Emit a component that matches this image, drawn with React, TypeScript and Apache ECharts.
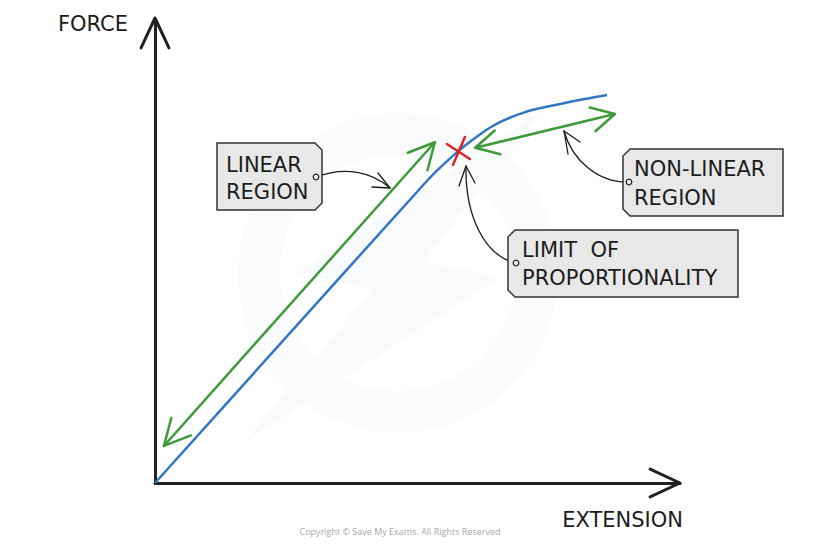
import React, { useEffect, useRef } from "react";
import * as echarts from "echarts";

// Force–extension curve (arbitrary units, axes 0..100)
const extension = [0, 25, 52, 54, 56, 58, 60, 62, 64, 66, 68, 70, 72, 78.5, 86.1];
const force = [0, 31.5, 65.5, 67.8, 69.9, 71.9, 73.7, 75.4, 76.9, 78.1, 79.1, 79.9, 80.6, 82.2, 83.8];

// Annotation anchors in data units
const linearArrow = [[1.7, 8.0], [53.3, 73.6]];
const nonLinearArrow = [[61.0, 72.4], [87.6, 79.7]];
const limitPoint = [57.7, 71.5];

const axisNames = { x: "EXTENSION", y: "FORCE" };
const linearLabel = ["LINEAR", "REGION"];
const nonLinearLabel = ["NON-LINEAR", "REGION"];
const limitLabel = ["LIMIT  OF", "PROPORTIONALITY"];
const copyright = "Copyright © Save My Exams. All Rights Reserved";

const FONT = "DejaVu Sans";
const INK = "#1c1c1c";
const GREEN = "#3e9a3a";
const BLUE = "#3377c4";
const RED = "#d8262b";

function chevron(tip: number[], toward: number[], len: number, deg: number) {
  const dx = toward[0] - tip[0];
  const dy = toward[1] - tip[1];
  const a = Math.atan2(dy, dx);
  const r = (deg * Math.PI) / 180;
  return [
    [tip[0] + len * Math.cos(a + r), tip[1] + len * Math.sin(a + r)],
    [tip[0], tip[1]],
    [tip[0] + len * Math.cos(a - r), tip[1] + len * Math.sin(a - r)],
  ];
}

export default function App() {
  const ref = useRef<HTMLDivElement>(null);
  useEffect(() => {
    if (!ref.current) return;
    const chart = echarts.init(ref.current, null, { renderer: "svg" });
    chart.setOption({
      animation: false,
      backgroundColor: "#ffffff",
      grid: { left: 155, right: 140, top: 20, bottom: 63 },
      xAxis: {
        type: "value",
        min: 0,
        max: 100,
        name: axisNames.x,
        nameLocation: "end",
        nameGap: 3,
        nameTextStyle: {
          align: "right",
          verticalAlign: "top",
          padding: [26, 0, 0, 0],
          fontSize: 21,
          fontFamily: FONT,
          color: INK,
        },
        axisLine: { show: true, lineStyle: { color: "#222", width: 3 } },
        axisTick: { show: false },
        axisLabel: { show: false },
        splitLine: { show: false },
      },
      yAxis: {
        type: "value",
        min: 0,
        max: 100,
        name: axisNames.y,
        nameLocation: "end",
        nameGap: -4,
        nameTextStyle: {
          align: "right",
          verticalAlign: "middle",
          padding: [0, 27, 0, 0],
          fontSize: 21,
          fontFamily: FONT,
          color: INK,
        },
        axisLine: { show: true, lineStyle: { color: "#222", width: 3 } },
        axisTick: { show: false },
        axisLabel: { show: false },
        splitLine: { show: false },
      },
      series: [
        {
          type: "line",
          data: extension.map((x, i) => [x, force[i]]),
          smooth: 0.3,
          showSymbol: false,
          lineStyle: { color: BLUE, width: 2.5 },
          z: 3,
        },
      ],
    });

    const p = (d: number[]) => chart.convertToPixel({ gridIndex: 0 }, d) as number[];
    const origin = p([0, 0]);
    const yTop = p([0, 100]);
    const xEnd = p([100, 0]);

    const yTip = [yTop[0], yTop[1] - 2];
    const xTip = [xEnd[0], xEnd[1]];

    const la = linearArrow.map(p);
    const na = nonLinearArrow.map(p);
    const lp = p(limitPoint);

    const blackLine = { stroke: "#222", lineWidth: 3, fill: "none", lineCap: "round", lineJoin: "round" };
    const greenLine = { stroke: GREEN, lineWidth: 2.5, fill: "none", lineCap: "round", lineJoin: "round" };
    const thin = { stroke: INK, lineWidth: 1.3, fill: "none", lineCap: "round", lineJoin: "round" };
    const boxStyle = { fill: "#e8e8e8", stroke: "#333", lineWidth: 1.5 };
    const txt = (x: number, y: number, s: string, size = 21) => ({
      type: "text",
      x,
      y,
      z: 20,
      style: { text: s, fontSize: size, fontFamily: FONT, fill: INK, align: "left", verticalAlign: "middle" },
    });
    const dot = (x: number, y: number) => ({
      type: "circle",
      z: 21,
      shape: { cx: x, cy: y, r: 2.8 },
      style: { fill: "#eeeeee", stroke: INK, lineWidth: 1.2 },
    });

    const elements: any[] = [
      // faint watermark
      {
        type: "ring",
        z: -5,
        shape: { cx: 398, cy: 273, r: 160, r0: 118 },
        style: { fill: "#fafbfd" },
        silent: true,
      },
      {
        type: "polygon",
        z: -5,
        shape: {
          points: [
            [543, 110],
            [297, 273],
            [373, 290],
            [243, 443],
            [500, 277],
            [423, 262],
          ],
        },
        style: { fill: "#f9fafc" },
        silent: true,
      },
      // axis arrowheads
      { type: "polyline", z: 10, shape: { points: chevron(yTip, origin, 33, 25) }, style: blackLine },
      { type: "polyline", z: 10, shape: { points: chevron(xTip, origin, 33, 25) }, style: blackLine },
      // green arrows
      { type: "line", z: 8, shape: { x1: la[0][0], y1: la[0][1], x2: la[1][0], y2: la[1][1] }, style: greenLine },
      { type: "polyline", z: 8, shape: { points: chevron(la[0], la[1], 29, 27) }, style: greenLine },
      { type: "polyline", z: 8, shape: { points: chevron(la[1], la[0], 29, 27) }, style: greenLine },
      { type: "line", z: 8, shape: { x1: na[0][0], y1: na[0][1], x2: na[1][0], y2: na[1][1] }, style: greenLine },
      { type: "polyline", z: 8, shape: { points: chevron(na[0], na[1], 26, 28) }, style: greenLine },
      { type: "polyline", z: 8, shape: { points: chevron(na[1], na[0], 26, 28) }, style: greenLine },
      // red cross at limit of proportionality
      {
        type: "line",
        z: 9,
        shape: { x1: lp[0] - 11, y1: lp[1] - 8, x2: lp[0] + 12, y2: lp[1] + 7 },
        style: { stroke: RED, lineWidth: 2.5, lineCap: "round" },
      },
      {
        type: "line",
        z: 9,
        shape: { x1: lp[0] + 7, y1: lp[1] - 15, x2: lp[0] - 5, y2: lp[1] + 13 },
        style: { stroke: RED, lineWidth: 2.5, lineCap: "round" },
      },
      // LINEAR REGION callout
      {
        type: "polygon",
        z: 15,
        shape: { points: [[217, 143], [315, 143], [322, 150], [322, 203], [315, 210], [217, 210]] },
        style: boxStyle,
      },
      txt(226, 165, linearLabel[0]),
      txt(226, 192, linearLabel[1]),
      {
        type: "bezierCurve",
        z: 12,
        shape: { x1: 316, y1: 177, cpx1: 345, cpy1: 166, cpx2: 372, cpy2: 172, x2: 390, y2: 188 },
        style: thin,
      },
      { type: "polyline", z: 12, shape: { points: [[378, 173], [390, 188], [372, 187]] }, style: thin },
      dot(316, 177),
      // NON-LINEAR REGION callout
      {
        type: "polygon",
        z: 15,
        shape: { points: [[630, 149], [783, 149], [783, 216], [630, 216], [623, 209], [623, 156]] },
        style: boxStyle,
      },
      txt(634, 169, nonLinearLabel[0]),
      txt(634, 198, nonLinearLabel[1]),
      {
        type: "bezierCurve",
        z: 12,
        shape: { x1: 629, y1: 182, cpx1: 598, cpy1: 183, cpx2: 572, cpy2: 160, x2: 564, y2: 131 },
        style: thin,
      },
      { type: "polyline", z: 12, shape: { points: [[580, 142], [564, 131], [568, 154]] }, style: thin },
      dot(629, 182),
      // LIMIT OF PROPORTIONALITY callout
      {
        type: "polygon",
        z: 15,
        shape: { points: [[515, 230], [738, 230], [738, 297], [515, 297], [508, 290], [508, 237]] },
        style: boxStyle,
      },
      txt(522, 250, limitLabel[0]),
      txt(522, 278, limitLabel[1]),
      {
        type: "bezierCurve",
        z: 12,
        shape: { x1: 516, y1: 263, cpx1: 484, cpy1: 256, cpx2: 465, cpy2: 215, x2: 466, y2: 166 },
        style: thin,
      },
      { type: "polyline", z: 12, shape: { points: [[459, 186], [466, 166], [475, 183]] }, style: thin },
      dot(516, 263),
      // copyright
      {
        type: "text",
        x: 400,
        y: 531,
        z: 1,
        style: { text: copyright, fontSize: 9, fontFamily: "Open Sans", fill: "#a8a8a8", align: "center", verticalAlign: "middle" },
      },
    ];

    chart.setOption({ graphic: { elements } });

    return () => chart.dispose();
  }, []);

  return (
    <div
      ref={ref}
      style={{ position: "fixed", left: 0, top: 0, width: 820, height: 546 }}
    />
  );
}
